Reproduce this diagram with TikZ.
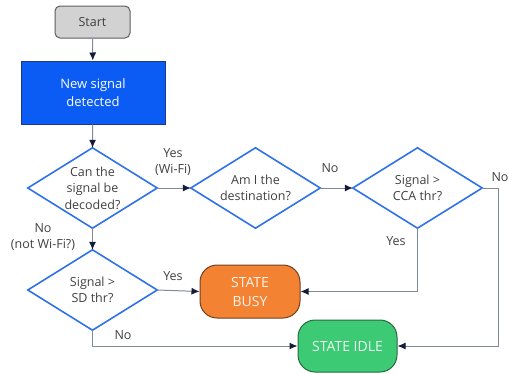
\documentclass[tikz,border=0pt]{standalone}
\usepackage{fontspec}
\setmainfont{Open Sans}
\usetikzlibrary{arrows.meta}
\definecolor{txt}{HTML}{404040}
\definecolor{conn}{HTML}{808A9A}
\definecolor{tipc}{HTML}{141C3C}
\definecolor{diab}{HTML}{2E72EA}
\definecolor{newf}{HTML}{0A5CF5}
\definecolor{newb}{HTML}{1C3A86}
\definecolor{busyf}{HTML}{F38233}
\definecolor{busyb}{HTML}{6E4222}
\definecolor{idlef}{HTML}{3CCA74}
\definecolor{idleb}{HTML}{2A6A3E}
\definecolor{startf}{HTML}{D2D2D2}
\definecolor{startb}{HTML}{5E5E5E}
\tikzset{
  every node/.style={font=\fontsize{12.5}{16.5}\selectfont, text=txt, align=center},
  startbox/.style={draw=startb, fill=startf, line width=1pt, rounded corners=5pt, minimum width=75pt, minimum height=32pt, inner sep=0pt},
  newbox/.style={draw=newb, fill=newf, line width=1pt, minimum width=144pt, minimum height=63pt, inner sep=0pt, text=white, font=\fontsize{13}{18}\selectfont},
  diabox/.style={minimum width=129pt, minimum height=80pt, inner sep=0pt},
  diaedge/.style={draw=diab, line width=1.6pt, line join=miter},
  busybox/.style={draw=busyb, fill=busyf, line width=1pt, rounded corners=17pt, minimum width=100pt, minimum height=53pt, inner sep=0pt, text=white!90!busyf, font=\fontsize{14}{19}\selectfont},
  idlebox/.style={draw=idleb, fill=idlef, line width=1pt, rounded corners=17pt, minimum width=99pt, minimum height=52pt, inner sep=0pt, text=white!90!idlef, font=\fontsize{14}{19}\selectfont},
  conn/.style={draw=conn, line width=1pt, -{Latex[length=8pt,width=7pt,color=tipc]}},
  lbl/.style={inner sep=0pt}
}
\begin{document}
\begin{tikzpicture}[x=1pt,y=-1pt]
\useasboundingbox (0,0) rectangle (509,373);
\node[startbox] (start) at (92.5,22) {Start};
\node[newbox] (new) at (93,92.5) {New signal\\detected};
\node[diabox] (d1) at (92.5,188) {Can the\\signal be\\decoded?};
\node[diabox] (d2) at (255.5,188) {Am I the\\destination?};
\node[diabox] (d3) at (417.5,188) {Signal >\\CCA thr?};
\node[diabox] (d4) at (92.5,290) {Signal >\\SD thr?};
\foreach \d in {d1,d2,d3,d4}{
  \draw[diaedge] (\d.north) -- (\d.east) -- (\d.south) -- (\d.west) -- cycle;
}
\node[busybox] (busy) at (250,291.5) {STATE\\BUSY};
\node[idlebox] (idle) at (347.5,346) {STATE IDLE};
\coordinate (c3r) at (498,188);
\coordinate (c3d) at (498,346);
\coordinate (c3b) at (417.5,291.5);
\coordinate (c4b) at (92.5,346);
\draw[conn] (start) -- (new);
\draw[conn] (new) -- (d1.north);
\draw[conn] (d1.east) -- (d2.west);
\draw[conn] (d2.east) -- (d3.west);
\draw[conn] (d3.east) -- (c3r) -- (c3d) -- (idle.east);
\draw[conn] (d3.south) -- (c3b) -- (busy.east);
\draw[conn] (d1.south) -- (d4.north);
\draw[conn] (d4.east) -- (busy.west);
\draw[conn] (d4.south) -- (c4b) -- (idle.west);
\node[lbl] (l1) at (173,162) {Yes\\(Wi-Fi)};
\node[lbl] (l2) at (330,168) {No};
\node[lbl] (l3) at (500,177) {No};
\node[lbl] (l4) at (396,241) {Yes};
\node[lbl] (l5) at (43,237) {No\\(not Wi-Fi?)};
\node[lbl] (l6) at (173,276) {Yes};
\node[lbl] (l7) at (123,335) {No};
\end{tikzpicture}
\end{document}
